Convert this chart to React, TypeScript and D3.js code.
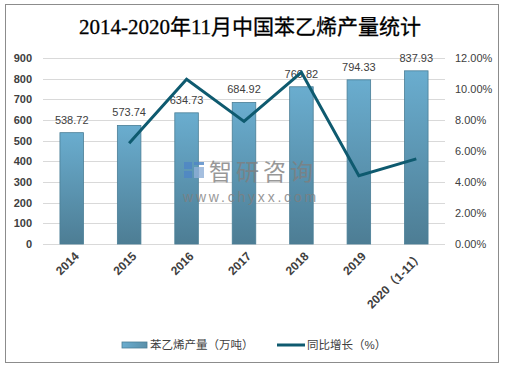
import React from "react";
import * as d3 from "d3";

const categories = ["2014", "2015", "2016", "2017", "2018", "2019", "2020（1-11）"];
const production = [538.72, 573.74, 634.73, 684.92, 760.82, 794.33, 837.93];
const growth = [null, 6.5, 10.63, 7.91, 11.08, 4.4, 5.49];
const leftTicks = [0, 100, 200, 300, 400, 500, 600, 700, 800, 900];
const rightTicks = [0, 2, 4, 6, 8, 10, 12];

const W = 506;
const H = 368;
const left = 43;
const right = 445;
const top = 58;
const bottom = 244;

export default function App() {
  const x = d3.scaleBand<string>().domain(categories).range([left, right]).paddingInner(0.59).paddingOuter(0.295);
  const yL = d3.scaleLinear().domain([0, 900]).range([bottom, top]);
  const yR = d3.scaleLinear().domain([0, 12]).range([bottom, top]);
  const pts = categories
    .map((c, i) => ({ c, v: growth[i] }))
    .filter((d) => d.v !== null) as { c: string; v: number }[];
  const line = d3
    .line<{ c: string; v: number }>()
    .x((d) => (x(d.c) as number) + x.bandwidth() / 2)
    .y((d) => yR(d.v));
  const bw = x.bandwidth();
  const font = "'Liberation Sans', 'Noto Sans CJK SC', sans-serif";
  return (
    <svg width={W} height={H} style={{ position: "absolute", left: 0, top: 0 }} fontFamily={font}>
      <defs>
        <linearGradient id="barg" x1="0" y1="0" x2="0" y2="1">
          <stop offset="0%" stopColor="#6aadcf" />
          <stop offset="100%" stopColor="#4d7d94" />
        </linearGradient>
        <linearGradient id="legg" x1="0" y1="0" x2="1" y2="0">
          <stop offset="0%" stopColor="#6aadcf" />
          <stop offset="100%" stopColor="#5a90aa" />
        </linearGradient>
      </defs>
      <rect x={0} y={0} width={W} height={H} fill="#fff" />
      <rect x={5.5} y={4.5} width={493} height={358} fill="none" stroke="#8c8c8c" />
      <text x={250} y={34} textAnchor="middle" fontSize={21} fontFamily="'Liberation Serif', 'Noto Sans CJK SC', serif" fill="#000" stroke="#000" strokeWidth={0.3}>
        2014-2020年11月中国苯乙烯产量统计
      </text>
      {leftTicks.map((t) => (
        <g key={t}>
          <line x1={left} x2={right} y1={Math.round(yL(t)) + 0.5} y2={Math.round(yL(t)) + 0.5} stroke="#d9d9d9" />
          <text x={32} y={yL(t)} dy="0.35em" textAnchor="end" fontSize={11} fontWeight="bold" fill="#404040">
            {t}
          </text>
        </g>
      ))}
      {rightTicks.map((t) => (
        <text key={t} x={455} y={yR(t)} dy="0.35em" textAnchor="start" fontSize={11} fill="#404040">
          {t.toFixed(2)}%
        </text>
      ))}
      {categories.map((c, i) => {
        const bx = x(c) as number;
        return (
          <g key={c}>
            <rect x={bx} y={yL(production[i])} width={bw} height={bottom - yL(production[i])} fill="url(#barg)" stroke="#4a7e96" strokeWidth={0.8} />
            <text x={bx + bw / 2} y={yL(production[i]) - 9} textAnchor="middle" fontSize={11} fill="#404040">
              {production[i].toFixed(2)}
            </text>
          </g>
        );
      })}
      <g opacity={0.8}>
        <rect x={184} y={162} width={8} height={7} fill="#4f86c6" />
        <rect x={194} y={162} width={10} height={3} fill="#4f86c6" />
        <rect x={184} y={171} width={8} height={7} fill="#4f86c6" />
        <rect x={194} y={167} width={10} height={11} fill="#8fb0d8" />
        <text x={209} y={180} fontSize={23} fill="#7f7f7f" letterSpacing={4}>
          智研咨询
        </text>
        <text x={183} y={202} fontSize={14} fill="#7f7f7f" letterSpacing={2.8}>
          www.chyxx.com
        </text>
      </g>
      <path d={line(pts) ?? ""} fill="none" stroke="#0e5a6f" strokeWidth={3} />
      {categories.map((c) => {
        const cx = (x(c) as number) + bw / 2;
        return (
          <text key={c} transform={`translate(${cx + 5},${254}) rotate(-45)`} textAnchor="end" dy="0.35em" fontSize={12} fontWeight="bold" fill="#404040">
            {c}
          </text>
        );
      })}
      <rect x={122} y={342} width={25} height={6} fill="url(#legg)" stroke="#4a7e96" strokeWidth={0.8} />
      <text x={150} y={345} dy="0.35em" fontSize={11.5} fill="#404040">
        苯乙烯产量（万吨）
      </text>
      <line x1={277} x2={305} y1={345} y2={345} stroke="#0e5a6f" strokeWidth={3} />
      <text x={307} y={345} dy="0.35em" fontSize={11.5} fill="#404040">
        同比增长（%）
      </text>
    </svg>
  );
}
